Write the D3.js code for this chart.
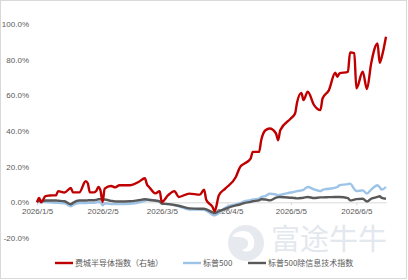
<!DOCTYPE html>
<html>
<head>
<meta charset="utf-8">
<script src="https://cdn.jsdelivr.net/npm/d3@7"></script>
<style>
  body { margin: 0; background: #fff; }
  svg { display: block; font-family: "Noto Sans CJK SC", "Noto Sans", sans-serif; }
  .tick text { fill: #595959; font-size: 8px; }
  .legend text { fill: #595959; font-size: 8px; }
</style>
</head>
<body>
<svg width="408" height="280"></svg>
<script>
// dates and cumulative returns (%)
var dates = [
  "2026-01-05","2026-01-06","2026-01-07","2026-01-09","2026-01-11","2026-01-14","2026-01-15","2026-01-18",
  "2026-01-21","2026-01-22","2026-01-25","2026-01-28","2026-01-29","2026-01-30","2026-02-01","2026-02-02",
  "2026-02-03","2026-02-04","2026-02-05","2026-02-06","2026-02-09","2026-02-11","2026-02-13","2026-02-18",
  "2026-02-22","2026-02-25","2026-02-26","2026-02-27","2026-03-02","2026-03-04","2026-03-05","2026-03-08",
  "2026-03-11","2026-03-13","2026-03-18","2026-03-23","2026-03-25","2026-03-26","2026-03-29","2026-03-30",
  "2026-04-01","2026-04-04","2026-04-09","2026-04-11","2026-04-13","2026-04-16","2026-04-17","2026-04-20",
  "2026-04-21","2026-04-23","2026-04-25","2026-04-28","2026-04-29","2026-04-30","2026-05-05","2026-05-07",
  "2026-05-08","2026-05-10","2026-05-11","2026-05-13","2026-05-16","2026-05-19","2026-05-20","2026-05-23",
  "2026-05-26","2026-05-27","2026-05-28","2026-06-01","2026-06-02","2026-06-04","2026-06-05","2026-06-08",
  "2026-06-10","2026-06-12","2026-06-15","2026-06-16","2026-06-17","2026-06-19"
];

var sox = [
  0, 2.5, 0, 3.5, 3.8, 4, 6.3, 5.5,
  8, 5.6, 5.6, 11.8, 10.7, 5.6, 5.6, 6.3,
  8.6, 6.7, 0.2, 7.7, 9.2, 8.4, 9.6, 9.6,
  11.4, 13.5, 10, 8.6, 5, 6.3, 0.2, 4,
  6.3, 3, 4.9, 4.3, 7.1, 1.5, -2.6, -5,
  4, 7.7, 14.2, 19.8, 21.7, 24.5, 28.3, 28.3,
  34.8, 40.4, 41.4, 38.6, 34.8, 40.4, 47, 49.8,
  56.3, 61.4, 57.3, 62, 54.5, 51.7, 58.2, 62.9,
  72.7, 70.4, 72.3, 73.2, 84.1, 83.7, 63.9, 73.2,
  63.5, 78, 89.1, 78.3, 81.6, 92.9
];

var spx = [
  0, 0.3, 0, 0.2, 0, -0.2, -0.3, -0.5,
  -2.2, -1.5, -0.4, -0.4, -0.3, -0.3, -0.2, 0,
  0.2, 0, -1.7, -0.5, -1, -1, -1, -0.8,
  -0.2, 0.8, 1.2, 1.6, 0.8, 0.3, -0.5, -1,
  -1.6, -2.2, -4, -4, -4.2, -4.6, -7, -7.3,
  -6, -3, -1.1, -0.5, 0.5, 1.2, 1.6, 2,
  3, 3.5, 4.8, 4.4, 4, 4.2, 5.5, 6,
  6.3, 6.7, 7, 8.6, 7.3, 6.3, 7, 7.6,
  8.2, 8.6, 9.6, 10.2, 10.5, 7.5, 6.3, 6.7,
  4.9, 7.1, 9.6, 8.5, 7.1, 8.6
];

var spxExIT = [
  0.5, 0.8, 0.8, 1, 1, 1, 0.9, 0.6,
  -1.1, -0.3, 1, 1, 1.1, 1.2, 1.2, 1.4,
  1.7, 1.7, 1.5, 1.6, 0.8, 0.5, 0.5, 0.6,
  1.2, 1.7, 1.6, 1.3, 1, 0.5, -0.7, -1,
  -1.5, -1.9, -3.4, -3.6, -3.6, -4, -5.6, -6,
  -5, -3.6, -1.7, -1.2, -0.4, 0.3, 0.6, 1.1,
  1.7, 1.6, 1.1, 2.6, 2.9, 3, 2.6, 2.4,
  2.2, 2.4, 2.6, 3, 2.4, 2.8, 2.8, 2.9,
  3, 3, 3, 2.4, 1.1, 1.5, 1.8, 2,
  0.5, 2, 3, 3.4, 2.5, 2
];

var seriesNames = ["费城半导体指数（右轴）", "标普500", "标普500除信息技术指数"];
var seriesColors = ["#c00000", "#9dc3e6", "#595959"];
var yTicks = [-20, 0, 20, 40, 60, 80, 100];
var xTicks = ["2026-01-05", "2026-02-05", "2026-03-05", "2026-04-05", "2026-05-05", "2026-06-05"];

var parse = d3.timeParse("%Y-%m-%d");
var svg = d3.select("svg");

// outer frame
svg.append("rect")
    .attr("x", 0.5).attr("y", 0.5)
    .attr("width", 406).attr("height", 278)
    .attr("fill", "#fff").attr("stroke", "#d9d9d9");

// watermark
var wm = svg.append("g").attr("class", "watermark");
wm.append("circle").attr("cx", 246).attr("cy", 243).attr("r", 18).attr("fill", "#e6eaef");
wm.append("path")
    .attr("d", "M232,236 C240,228 252,230 254,240 C256,250 248,254 242,250 C250,248 250,240 244,238 C240,236 236,238 232,236 Z")
    .attr("fill", "#fff");
wm.append("text")
    .attr("x", 271).attr("y", 250)
    .attr("font-size", 29).attr("fill", "#e3e8ee")
    .text("富途牛牛");

var x = d3.scaleTime()
    .domain([parse("2026-01-05"), parse("2026-06-19")])
    .range([37, 386]);

var y = d3.scaleLinear().domain([-20, 100]).range([238, 24]);

// y axis labels
var yAxis = svg.append("g")
    .attr("transform", "translate(32,0)")
    .call(d3.axisLeft(y).tickValues(yTicks).tickSize(0).tickPadding(3)
        .tickFormat(function (d) { return d.toFixed(1) + "%"; }));
yAxis.select(".domain").remove();

// x axis sits on the zero line
var xAxis = svg.append("g")
    .attr("transform", "translate(0," + y(0) + ")")
    .call(d3.axisBottom(x).tickValues(xTicks.map(parse)).tickSize(3).tickSizeOuter(0).tickPadding(3)
        .tickFormat(d3.timeFormat("%Y/%-m/%-d")));
xAxis.select(".domain").attr("stroke", "#d9d9d9");
xAxis.selectAll(".tick line").attr("stroke", "#d9d9d9");

var rows = dates.map(function (d, i) {
    return { date: parse(d), values: [sox[i], spx[i], spxExIT[i]] };
});

var drawOrder = [1, 2, 0];
drawOrder.forEach(function (k) {
    var line = d3.line()
        .x(function (d) { return x(d.date); })
        .y(function (d) { return y(d.values[k]); })
        .curve(d3.curveMonotoneX);
    svg.append("path")
        .datum(rows)
        .attr("fill", "none")
        .attr("stroke", seriesColors[k])
        .attr("stroke-width", 2.4)
        .attr("stroke-linejoin", "round")
        .attr("d", line);
});

// legend
var legendX = [55, 183, 248];
var legend = svg.append("g").attr("class", "legend");
seriesNames.forEach(function (name, i) {
    var g = legend.append("g").attr("transform", "translate(" + legendX[i] + ",263)");
    g.append("line").attr("x1", 0).attr("x2", 18)
        .attr("stroke", seriesColors[i]).attr("stroke-width", 2.4);
    g.append("text").attr("x", 20).attr("dy", "0.35em").text(name);
});
</script>
</body>
</html>
